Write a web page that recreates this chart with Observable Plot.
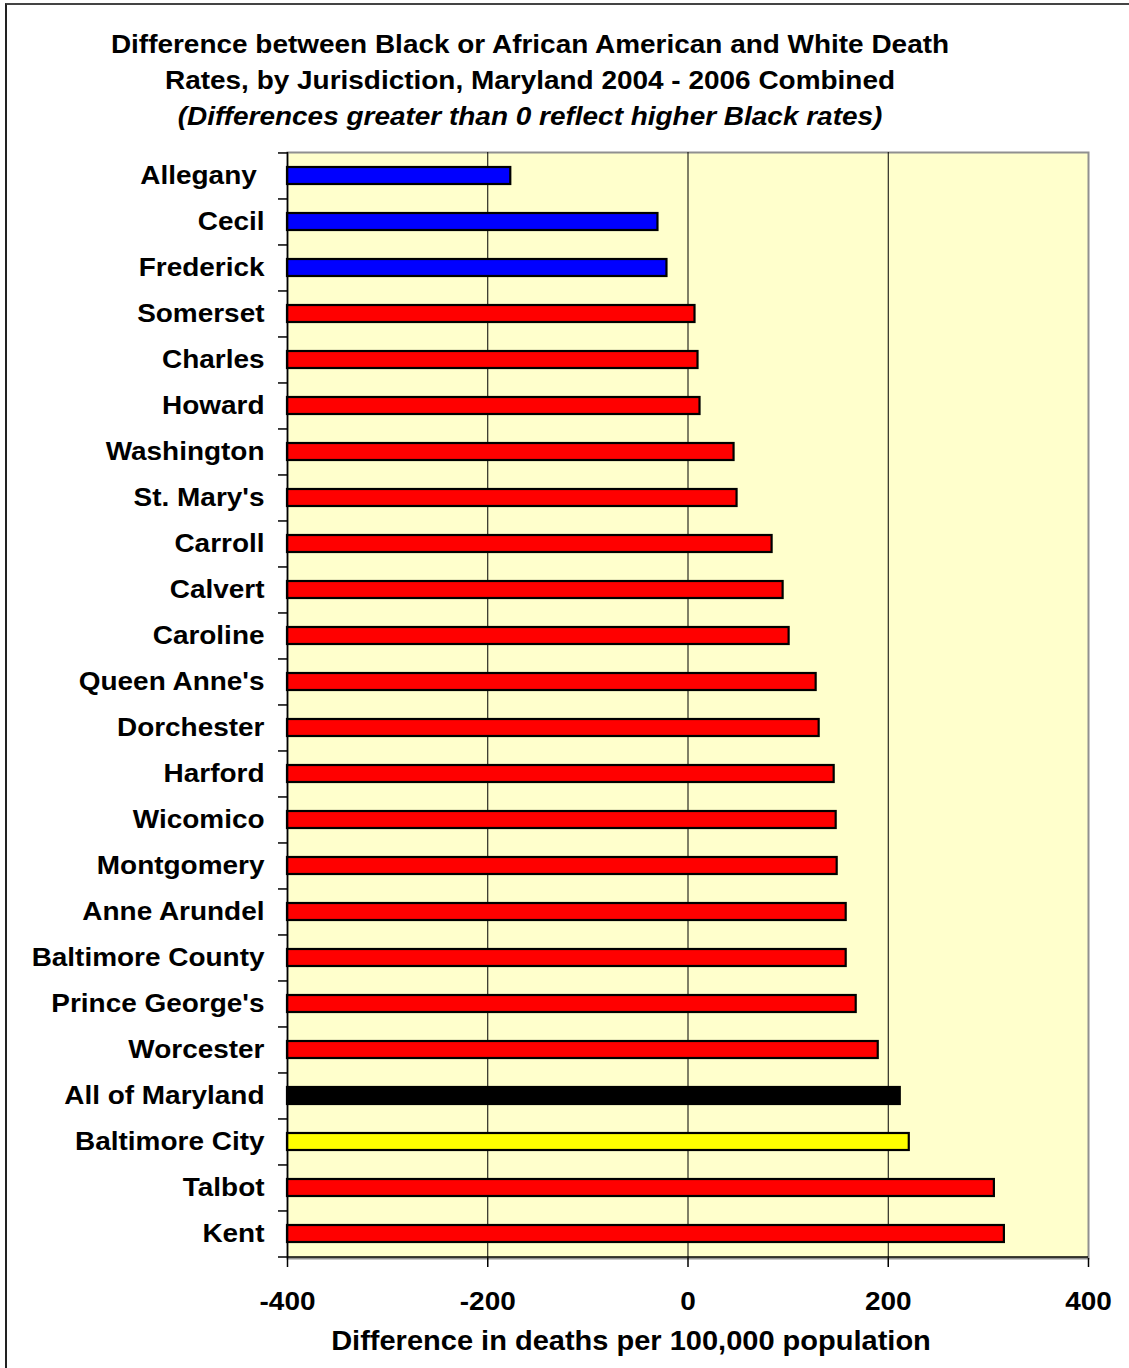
<!DOCTYPE html>
<html><head><meta charset="utf-8">
<script src="https://cdn.jsdelivr.net/npm/d3@7"></script>
<script src="https://cdn.jsdelivr.net/npm/@observablehq/plot@0.6"></script>
<style>
body{margin:0;background:#fff;}
#wrap{position:relative;width:1129px;height:1368px;overflow:hidden;font-family:"Liberation Sans",Arial,sans-serif;background:#fff;}
#border{position:absolute;left:5px;top:3px;width:1200px;height:1400px;border-left:2px solid #222;border-top:2px solid #444;}
#title{position:relative;width:1060px;height:140px;box-sizing:border-box;padding-top:26px;text-align:center;font-weight:bold;font-size:26px;line-height:36px;color:#000;transform:scaleX(1.075);transform-origin:530px 0;}
#chart svg{display:block;}
</style></head><body>
<div id="wrap"><div id="border"></div>
<div id="title">Difference between Black or African American and White Death<br>Rates, by Jurisdiction, Maryland 2004 - 2006 Combined<br><i>(Differences greater than 0 reflect higher Black rates)</i></div>
<div id="chart"></div></div>
<script>
const jurisdictions = ["Allegany","Cecil","Frederick","Somerset","Charles","Howard","Washington","St. Mary's","Carroll","Calvert","Caroline","Queen Anne's","Dorchester","Harford","Wicomico","Montgomery","Anne Arundel","Baltimore County","Prince George's","Worcester","All of Maryland","Baltimore City","Talbot","Kent"];
const differences = [-177,-30,-21,7,10,12,46,49,84,95,101,128,131,146,148,149,158,158,168,190,212,221,306,316];
const xTicks = [-400,-200,0,200,400];
const gridTicks = [-200,0,200];
const axisTitle = "Difference in deaths per 100,000 population";
const specialGroups = {"All of Maryland": "State", "Baltimore City": "Baltimore City"};
const groupNames = ["Lower","Higher","State","Baltimore City"];
const groupColors = ["#0000FF","#FF0000","#000000","#FFFF00"];

const W = 1129, H = 1228, mt = 12, mb = 110, ml = 287, mr = 41;
const step = (H - mt - mb) / jurisdictions.length;
const data = jurisdictions.map((name, i) => ({
  name, value: differences[i],
  group: specialGroups[name] ?? (differences[i] < 0 ? "Lower" : "Higher")
}));

const chart = Plot.plot({
  width: W, height: H, marginTop: mt, marginBottom: mb, marginLeft: ml, marginRight: mr,
  style: {fontFamily: "'Liberation Sans', Arial, sans-serif", fontWeight: "bold", color: "#000", background: "transparent", overflow: "visible"},
  x: {domain: [xTicks[0], xTicks[xTicks.length - 1]]},
  y: {domain: jurisdictions, paddingInner: 0.62, paddingOuter: 0.31},
  color: {domain: groupNames, range: groupColors},
  marks: [
    Plot.frame({fill: "#FFFFCC", stroke: "#909090", strokeWidth: 2}),
    Plot.ruleX(gridTicks, {stroke: "#000", strokeWidth: 1}),
    Plot.barX(data, {x1: xTicks[0], x2: "value", y: "name", fill: "group", stroke: "#000", strokeWidth: 2.2}),
    Plot.ruleX([xTicks[0]], {stroke: "#000", strokeWidth: 1.5}),
    Plot.ruleY(jurisdictions, {y: d => d, x1: xTicks[0], x2: xTicks[0], insetLeft: -9, dy: -step / 2, stroke: "#000", strokeWidth: 1.5}),
    Plot.ruleY(jurisdictions.slice(-1), {y: d => d, x1: xTicks[0], x2: xTicks[xTicks.length - 1], insetLeft: -9, dy: step / 2, stroke: "#000", strokeWidth: 1.5}),
    Plot.axisX({ticks: xTicks, tickSize: 9, tickPadding: 24, fontSize: 26, label: null, tickFormat: d => String(d), stroke: "#000", strokeWidth: 1.5}),
    Plot.axisY({tickSize: 0, tickPadding: 23, fontSize: 26, label: null, tickFormat: d => d === "Allegany" ? d + "\u00A0" : d}),
    Plot.text([axisTitle], {frameAnchor: "bottom", dy: 91, dx: -57, fontSize: 27, fontWeight: "bold", fill: "#000"})
  ]
});

const s = 1.075;
chart.querySelectorAll("text").forEach(t => {
  const tr = t.getAttribute("transform") || "";
  const xa = t.getAttribute("x");
  const x = (xa && !/em/.test(xa) && isFinite(parseFloat(xa))) ? parseFloat(xa) : 0;
  t.setAttribute("transform", `${tr} translate(${x},0) scale(${s},1) translate(${-x},0)`.trim());
});
document.getElementById("chart").appendChild(chart);
</script>
</body></html>
